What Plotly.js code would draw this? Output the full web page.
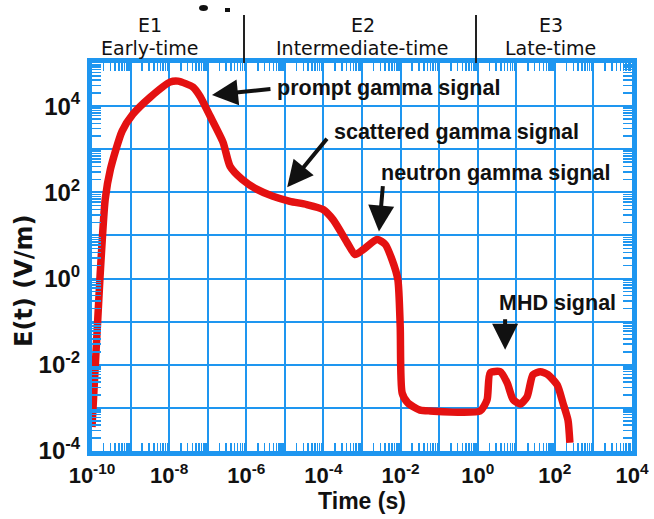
<!DOCTYPE html>
<html>
<head>
<meta charset="utf-8">
<script src="https://cdn.plot.ly/plotly-3.0.1.min.js"></script>
<style>html,body{margin:0;padding:0;background:#fff;}#chart{width:654px;height:519px;}</style>
</head>
<body>
<div id="chart"></div>
<script>
// ---- data ----
const timeS = [1.0e-10, 1.6e-10, 2.2e-10, 3.0e-10, 6.0e-10, 1.15e-9, 3.2e-9, 1.05e-8, 1.7e-8, 4.2e-8,
  6.3e-8, 1.15e-7, 2.5e-7, 3.8e-7, 7.8e-7, 1.9e-6, 4.9e-6, 1.35e-5, 3.7e-5, 9.8e-5,
  1.8e-4, 4.1e-4, 6.6e-4, 1.07e-3, 2.45e-3, 4.0e-3, 6.0e-3, 8.5e-3, 9.8e-3, 1.1e-2,
  1.55e-2, 3.2e-2, 5.8e-2, 1.15, 1.75, 2.1, 3.8, 5.8, 8.3, 12.6,
  19, 27, 42, 66, 115, 162, 219, 245];
const fieldVm = [3.6e-4, 0.95, 69, 340, 2600, 6500, 16000, 36000, 38000, 27500,
  17000, 5900, 1450, 400, 200, 117, 81, 62, 52, 40,
  23, 6.9, 3.6, 4.7, 8.1, 6.2, 2.75, 0.95, 0.076, 2.2e-3,
  1.3e-3, 8.9e-4, 8.5e-4, 8.5e-4, 1.55e-3, 6.5e-3, 6.9e-3, 3.8e-3, 1.55e-3, 1.23e-3,
  1.8e-3, 5.9e-3, 6.9e-3, 5.9e-3, 3.4e-3, 1.3e-3, 5.2e-4, 1.55e-4];

const xDecades = [1e-10,1e-9,1e-8,1e-7,1e-6,1e-5,1e-4,1e-3,1e-2,1e-1,1e0,1e1,1e2,1e3,1e4];
const xTickText = ['10<sup>-10</sup>','', '10<sup>-8</sup>','', '10<sup>-6</sup>','', '10<sup>-4</sup>','',
  '10<sup>-2</sup>','', '10<sup>0</sup>','', '10<sup>2</sup>','', '10<sup>4</sup>'];
const yDecades = [1e-4,1e-3,1e-2,1e-1,1e0,1e1,1e2,1e3,1e4,1e5];
const yTickText = ['10<sup>-4</sup>','', '10<sup>-2</sup>','', '10<sup>0</sup>','', '10<sup>2</sup>','', '10<sup>4</sup>',''];

const phaseNames = ['E1', 'E2', 'E3'];
const phaseLabels = ['Early-time', 'Intermediate-time', 'Late-time'];
const signalLabels = ['prompt gamma signal', 'scattered gamma signal', 'neutron gamma signal', 'MHD signal'];
const xTitle = 'Time (s)';
const yTitle = 'E(t) (V/m)';

// ---- styling ----
const BLUE = '#1E96F0';
const FONT = '"Liberation Sans", Arial, sans-serif';
const WIDE = '"DejaVu Sans", Verdana, sans-serif';

function minorVals(lo, hi) {
  const v = [];
  for (let e = lo; e < hi; e++) for (let m = 2; m <= 9; m++) v.push(m * Math.pow(10, e));
  return v;
}

// geometry helpers (pixel -> paper), plot area l=92 t=63 w=540 h=388
const PL = 92, PT = 63, PW = 540, PH = 388;
const px = x => (x - PL) / PW;
const py = y => 1 + (PT - y) / PH;

const trace = {
  x: timeS, y: fieldVm, type: 'scatter', mode: 'lines',
  line: {color: '#E41111', width: 7.5, shape: 'spline', smoothing: 0.6},
  hoverinfo: 'x+y', showlegend: false
};

const phaseX = [150, 363, 551];
const annotations = [];
phaseNames.forEach((n, i) => {
  annotations.push({xref: 'paper', yref: 'paper', x: px(phaseX[i]), y: py(25), text: n, showarrow: false,
    xanchor: 'center', yanchor: 'middle', font: {family: WIDE, size: 19, color: '#111'}});
  annotations.push({xref: 'paper', yref: 'paper', x: px(phaseX[i] - 1), y: py(48), text: phaseLabels[i], showarrow: false,
    xanchor: 'center', yanchor: 'middle', font: {family: WIDE, size: 19, color: '#111'}});
});
const sigPos = [[275, 88], [332, 132], [379, 173], [497, 303]];
signalLabels.forEach((s, i) => {
  annotations.push({xref: 'paper', yref: 'paper', x: px(sigPos[i][0]), y: py(sigPos[i][1]), text: s, showarrow: false,
    xanchor: 'left', yanchor: 'middle', font: {family: FONT, size: 21.5, color: '#111', weight: 'bold'}});
});
// y axis title placed as in the reference (centred lower than the axis middle)
annotations.push({xref: 'paper', yref: 'paper', x: px(24), y: py(281), text: yTitle, textangle: -90, showarrow: false,
  xanchor: 'center', yanchor: 'middle', font: {family: WIDE, size: 24, color: '#111', weight: 'bold'}});
// arrows: tip in log data units, tail offset in pixels
const arrows = [[-6.89, 4.26, 60, -6], [-4.94, 2.12, 41, -50], [-2.56, 1.09, 4, -47], [0.71, -1.65, 0, -32]];
arrows.forEach(a => {
  annotations.push({xref: 'x', yref: 'y', x: a[0], y: a[1], ax: a[2], ay: a[3], text: '', showarrow: true,
    arrowhead: 2, arrowsize: 1.3, arrowwidth: 4, arrowcolor: '#111', standoff: 0});
});

const shapes = [
  {type: 'line', xref: 'paper', yref: 'paper', x0: px(244), x1: px(244), y0: py(15), y1: 1, line: {color: '#222', width: 2}},
  {type: 'line', xref: 'paper', yref: 'paper', x0: px(476), x1: px(476), y0: py(15), y1: 1, line: {color: '#222', width: 2}},
  {type: 'circle', xref: 'paper', yref: 'paper', x0: px(199), x1: px(208), y0: py(11), y1: py(5), fillcolor: '#111', line: {width: 0}},
  {type: 'rect', xref: 'paper', yref: 'paper', x0: px(225), x1: px(230), y0: py(12), y1: py(8), fillcolor: '#111', line: {width: 0}}
];

const layout = {
  width: 654, height: 519,
  margin: {l: PL, r: 654 - PL - PW, t: PT, b: 519 - PT - PH},
  paper_bgcolor: '#fff', plot_bgcolor: '#fff',
  showlegend: false,
  xaxis: {type: 'log', range: [-10, 4], tickmode: 'array', tickvals: xDecades, ticktext: xTickText,
    showgrid: true, gridcolor: BLUE, gridwidth: 2, zeroline: false,
    showline: true, linecolor: BLUE, linewidth: 5, mirror: 'allticks', ticks: '',
    ticklabelstandoff: 1,
    minor: {tickmode: 'array', tickvals: minorVals(-10, 4), ticks: 'inside', ticklen: 8, tickwidth: 1.5, tickcolor: BLUE, showgrid: false},
    tickfont: {family: FONT, size: 22, color: '#111', weight: 'bold'}, automargin: false,
    title: {text: xTitle, font: {family: FONT, size: 23, color: '#111', weight: 'bold'}, standoff: 2}},
  yaxis: {type: 'log', range: [-4, 5], tickmode: 'array', tickvals: yDecades, ticktext: yTickText,
    showgrid: true, gridcolor: BLUE, gridwidth: 2, zeroline: false,
    showline: true, linecolor: BLUE, linewidth: 5, mirror: 'allticks', ticks: '',
    ticklabelstandoff: 2,
    minor: {tickmode: 'array', tickvals: minorVals(-4, 5), ticks: 'inside', ticklen: 9, tickwidth: 1.5, tickcolor: BLUE, showgrid: false},
    tickfont: {family: FONT, size: 24, color: '#111', weight: 'bold'}, automargin: false},
  annotations: annotations,
  shapes: shapes
};

Plotly.newPlot('chart', [trace], layout, {displayModeBar: false, staticPlot: true});
</script>
</body>
</html>
